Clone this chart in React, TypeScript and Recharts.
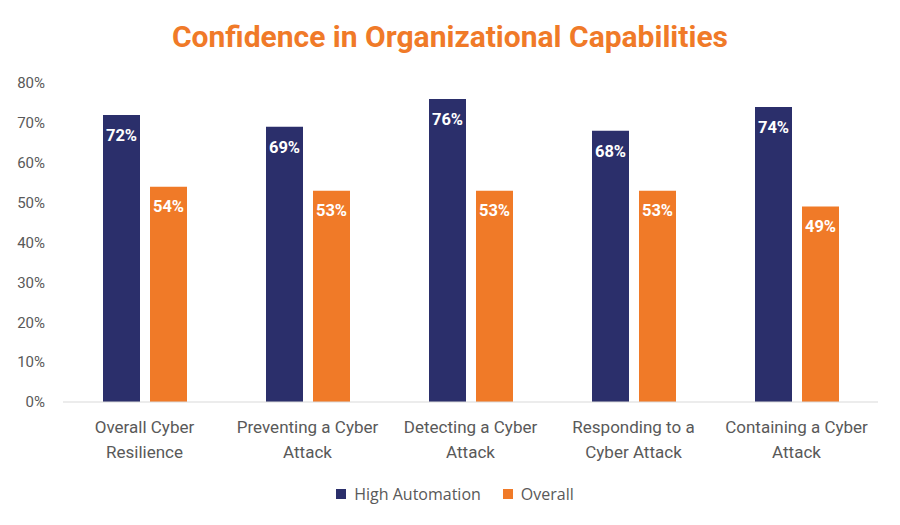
import React from 'react';
import { BarChart, Bar, XAxis, YAxis, LabelList, Legend } from 'recharts';

const categories = [
  'Overall Cyber\nResilience',
  'Preventing a Cyber\nAttack',
  'Detecting a Cyber\nAttack',
  'Responding to a\nCyber Attack',
  'Containing a Cyber\nAttack',
];
const highAutomation = [72, 69, 76, 68, 74];
const overall = [54, 53, 53, 53, 49];
const yTicks = [0, 10, 20, 30, 40, 50, 60, 70, 80];

const NAVY = '#2B2F6B';
const ORANGE = '#F07A28';
const GRAY = '#595959';

const data = categories.map((c, i) => ({ name: c, high: highAutomation[i], overall: overall[i] }));

const CatTick = (props: any) => {
  const { x, y, payload } = props;
  const lines = String(payload.value).split('\n');
  return (
    <g transform={`translate(${x},${y})`}>
      {lines.map((l, i) => (
        <text key={i} x={0} y={i * 25} dy={23} textAnchor="middle" fill={GRAY} fontSize={17} fontFamily="Roboto">
          {l}
        </text>
      ))}
    </g>
  );
};

const LegendContent = () => (
  <div style={{ display: 'flex', justifyContent: 'center', paddingLeft: 32, fontFamily: '"Open Sans", sans-serif', fontSize: 16, color: GRAY }}>
    <span style={{ display: 'flex', alignItems: 'center', marginRight: 22 }}>
      <span style={{ width: 10, height: 10, background: NAVY, display: 'inline-block', marginRight: 8 }} />
      High Automation
    </span>
    <span style={{ display: 'flex', alignItems: 'center' }}>
      <span style={{ width: 10, height: 10, background: ORANGE, display: 'inline-block', marginRight: 8 }} />
      Overall
    </span>
  </div>
);

export default function App() {
  return (
    <div style={{ position: 'absolute', left: 0, top: 0, width: 900, height: 525, background: '#fff' }}>
      <div
        style={{
          position: 'absolute',
          left: 0,
          top: 19,
          width: 900,
          textAlign: 'center',
          fontFamily: 'Roboto',
          fontWeight: 700,
          fontSize: 30,
          color: ORANGE,
        }}
      >
        Confidence in Organizational Capabilities
      </div>
      <BarChart
        width={900}
        height={525}
        data={data}
        margin={{ top: 83, right: 22, bottom: 23, left: 0 }}
        barCategoryGap={40}
        barGap={10}
      >
        <YAxis
          width={63}
          domain={[0, 80]}
          ticks={yTicks}
          tickFormatter={(v: number) => `${v}%`}
          axisLine={false}
          tickLine={false}
          tickSize={0}
          tickMargin={18}
          tick={{ fill: GRAY, fontSize: 15, fontFamily: 'Roboto' }}
          interval={0}
        />
        <XAxis
          dataKey="name"
          height={78}
          interval={0}
          tickLine={false}
          axisLine={{ stroke: '#D9D9D9', strokeWidth: 1 }}
          tick={<CatTick />}
        />
        <Legend verticalAlign="bottom" content={<LegendContent />} wrapperStyle={{ bottom: 20 }} />
        <Bar dataKey="high" name="High Automation" fill={NAVY} isAnimationActive={false}>
          <LabelList
            dataKey="high"
            position="insideTop"
            offset={14}
            formatter={(v: number) => `${v}%`}
            style={{ fill: '#fff', fontWeight: 700, fontSize: 16.5, fontFamily: 'Roboto' }}
          />
        </Bar>
        <Bar dataKey="overall" name="Overall" fill={ORANGE} isAnimationActive={false}>
          <LabelList
            dataKey="overall"
            position="insideTop"
            offset={14}
            formatter={(v: number) => `${v}%`}
            style={{ fill: '#fff', fontWeight: 700, fontSize: 16.5, fontFamily: 'Roboto' }}
          />
        </Bar>
      </BarChart>
    </div>
  );
}
